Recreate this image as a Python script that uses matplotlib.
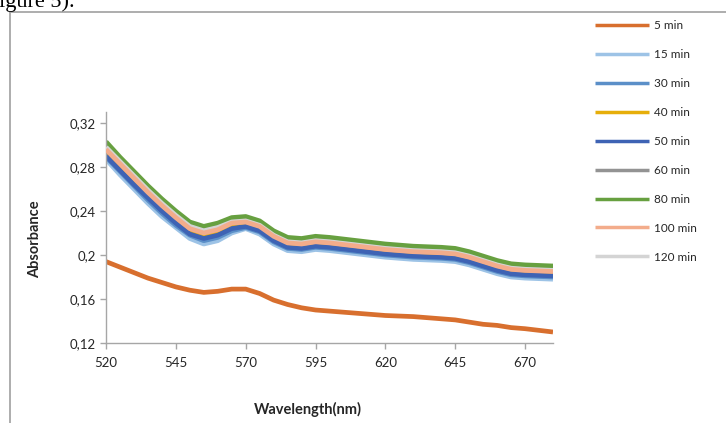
import numpy as np
import matplotlib
matplotlib.use('Agg')
from matplotlib import pyplot as plt
from matplotlib.lines import Line2D

# Wavelength grid (nm)
wavelength = [520, 525, 530, 535, 540, 545, 550, 555, 560, 565, 570, 575, 580, 585,
              590, 595, 600, 610, 620, 630, 640, 645, 650, 655, 660, 665, 670, 680]

# Absorbance per irradiation time
abs_5 = [0.194, 0.189, 0.184, 0.179, 0.175, 0.171, 0.168, 0.166, 0.167, 0.169, 0.169, 0.165, 0.159, 0.155,
         0.152, 0.150, 0.149, 0.147, 0.145, 0.144, 0.142, 0.141, 0.139, 0.137, 0.136, 0.134, 0.133, 0.130]
abs_15 = [0.287, 0.273, 0.260, 0.247, 0.235, 0.225, 0.215, 0.210, 0.213, 0.220, 0.224, 0.219, 0.210, 0.204,
          0.203, 0.205, 0.204, 0.201, 0.198, 0.196, 0.195, 0.194, 0.191, 0.187, 0.183, 0.180, 0.179, 0.178]
abs_30 = [0.289, 0.276, 0.263, 0.250, 0.238, 0.227, 0.218, 0.213, 0.216, 0.222, 0.225, 0.221, 0.212, 0.206,
          0.205, 0.207, 0.206, 0.203, 0.200, 0.198, 0.197, 0.196, 0.193, 0.189, 0.185, 0.182, 0.181, 0.180]
abs_40 = [0.294, 0.281, 0.268, 0.255, 0.243, 0.232, 0.222, 0.218, 0.221, 0.227, 0.228, 0.224, 0.215, 0.209,
          0.208, 0.210, 0.209, 0.206, 0.203, 0.201, 0.200, 0.199, 0.196, 0.192, 0.188, 0.185, 0.184, 0.183]
abs_50 = [0.290, 0.277, 0.264, 0.252, 0.240, 0.229, 0.219, 0.215, 0.218, 0.224, 0.226, 0.222, 0.213, 0.207,
          0.206, 0.208, 0.207, 0.204, 0.201, 0.199, 0.198, 0.197, 0.194, 0.190, 0.186, 0.183, 0.182, 0.181]
abs_60 = [0.300, 0.287, 0.274, 0.261, 0.249, 0.238, 0.228, 0.224, 0.227, 0.232, 0.233, 0.229, 0.220, 0.214,
          0.213, 0.215, 0.214, 0.211, 0.208, 0.206, 0.205, 0.204, 0.201, 0.197, 0.193, 0.190, 0.189, 0.188]
abs_80 = [0.303, 0.289, 0.276, 0.263, 0.251, 0.240, 0.230, 0.226, 0.229, 0.234, 0.235, 0.231, 0.222, 0.216,
          0.215, 0.217, 0.216, 0.213, 0.210, 0.208, 0.207, 0.206, 0.203, 0.199, 0.195, 0.192, 0.191, 0.190]
abs_100 = [0.296, 0.283, 0.270, 0.257, 0.245, 0.234, 0.224, 0.220, 0.223, 0.229, 0.230, 0.226, 0.217, 0.211,
           0.210, 0.212, 0.211, 0.208, 0.205, 0.203, 0.202, 0.201, 0.198, 0.194, 0.190, 0.187, 0.186, 0.185]
abs_120 = [0.298, 0.285, 0.272, 0.259, 0.247, 0.236, 0.226, 0.222, 0.225, 0.230, 0.231, 0.227, 0.218, 0.212,
           0.211, 0.213, 0.212, 0.209, 0.206, 0.204, 0.203, 0.202, 0.199, 0.195, 0.191, 0.188, 0.187, 0.186]

labels = ['5 min', '15 min', '30 min', '40 min', '50 min', '60 min', '80 min', '100 min', '120 min']
series = [abs_5, abs_15, abs_30, abs_40, abs_50, abs_60, abs_80, abs_100, abs_120]
colors = ['#D86F2E', '#9DC3E6', '#5B8FC8', '#E6AE0A', '#3E63B4',
          '#939393', '#67A040', '#F3AC8B', '#D4D4D4']
zorders = [2, 2, 2.1, 2.2, 2.3, 2.4, 2.5, 2.7, 2.6]

y_ticks = [0.12, 0.16, 0.20, 0.24, 0.28, 0.32]
y_ticklabels = ['0,12', '0,16', '0,2', '0,24', '0,28', '0,32']
x_ticks = [520, 545, 570, 595, 620, 645, 670]

plt.rcParams['font.family'] = ['Lato', 'DejaVu Sans']
grey = '#A6A6A6'
txt = '#262626'

W, H = 726, 423
fig = plt.figure(figsize=(W / 100, H / 100), dpi=100)
ax = fig.add_axes([106 / W, 80 / H, (553 - 106) / W, (343 - 112) / H])

for vals, lab, col, z in zip(series, labels, colors, zorders):
    ax.plot(wavelength, vals, color=col, lw=3.4, label=lab, zorder=z,
            solid_joinstyle='round', solid_capstyle='butt')

ax.set_xlim(520, 680)
ax.set_ylim(0.12, 0.33)
ax.set_xticks(x_ticks)
ax.set_yticks(y_ticks)
ax.set_yticklabels(y_ticklabels)
ax.tick_params(direction='out', length=4, width=1, color=grey,
               labelsize=9.5, labelcolor=txt)
ax.tick_params(axis='x', pad=6)
for s in ['top', 'right']:
    ax.spines[s].set_visible(False)
for s in ['left', 'bottom']:
    ax.spines[s].set_color(grey)
    ax.spines[s].set_linewidth(1)

fig.text(35 / W, 1 - 239 / H, 'Absorbance', rotation=90, ha='center', va='center',
         fontsize=10.5, fontweight='bold', color=txt)
fig.text(308 / W, 1 - 409 / H, 'Wavelength(nm)', ha='center', va='center',
         fontsize=10.5, fontweight='bold', color=txt)

leg = ax.legend(loc='upper left', bbox_to_anchor=(595 / W, 1 - 20 / H),
                bbox_transform=fig.transFigure, frameon=False, fontsize=8.5,
                handlelength=4.6, handletextpad=0.4, labelspacing=1.52,
                borderpad=0, borderaxespad=0)
for h in leg.get_lines():
    h.set_linewidth(2.5)
for t in leg.get_texts():
    t.set_color(txt)

# page frame and clipped caption from the document
fig.add_artist(Line2D([10 / W, 10 / W], [0, 1 - 12 / H], transform=fig.transFigure,
                      color='#A0A0A0', lw=1.2))
fig.add_artist(Line2D([10 / W, 1], [1 - 12 / H, 1 - 12 / H], transform=fig.transFigure,
                      color='#A0A0A0', lw=1.2))
fig.text(-0.002, 1 - 7 / H, 'igure 5).', ha='left', va='baseline', fontsize=16,
         family='Liberation Serif', color='black')

plt.savefig('out.png', dpi=100)
